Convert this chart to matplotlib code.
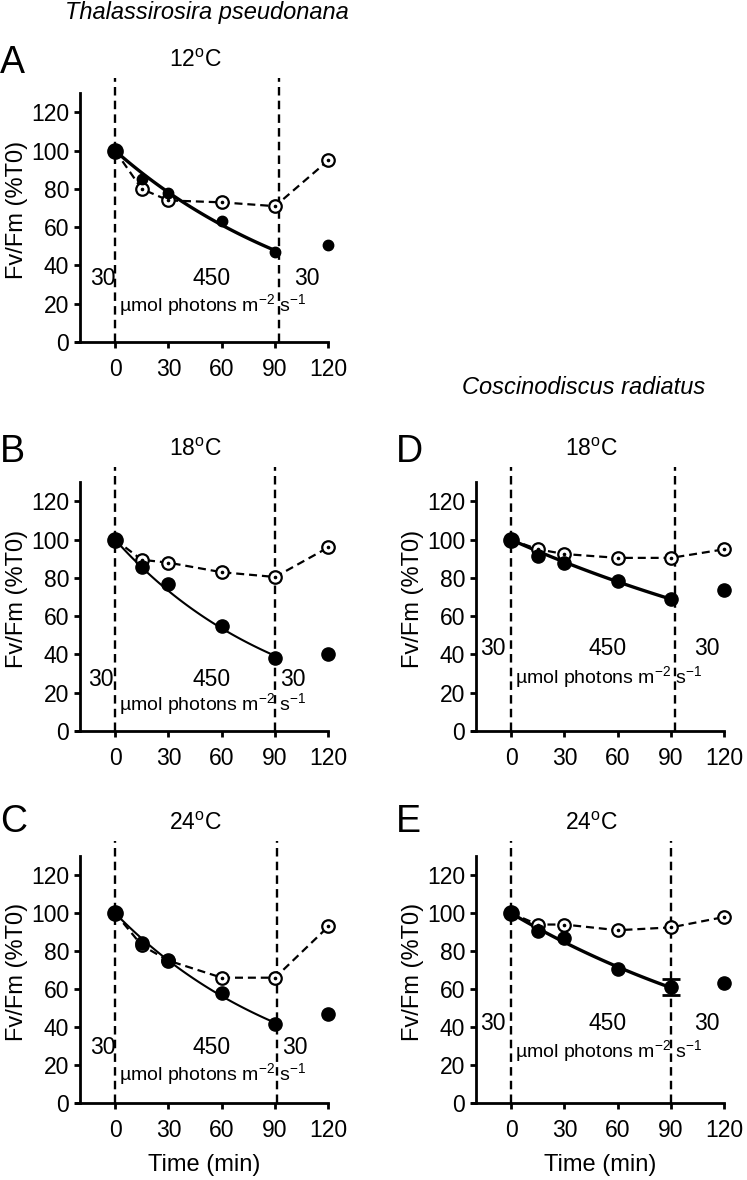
import numpy as np
import matplotlib.pyplot as plt

plt.rcParams['font.family'] = ['Liberation Sans', 'DejaVu Sans']
plt.rcParams['mathtext.fontset'] = 'custom'
plt.rcParams['mathtext.rm'] = 'Liberation Sans'

# time points (min)
t = [0, 15, 30, 60, 90, 120]

# Fv/Fm (%T0), open circles (dashed) and filled circles
open_A = [100, 80, 74, 73, 71, 95]
fill_A = [100, 85, 78, 63.5, 47, 50.5]
open_B = [100, 89.5, 88, 83, 80.5, 96]
fill_B = [100, 85.5, 77, 55, 38, 40.5]
open_C = [100, 83, 75, 66, 66, 93]
fill_C = [100, 84.5, 75.5, 58, 41.5, 47]
open_D = [100, 95, 92.5, 90.5, 90.5, 95]
fill_D = [100, 91.5, 88, 78.5, 69, 73.5]
open_E = [100, 94, 94, 91, 92.5, 98]
fill_E = [100, 90.5, 87, 70.5, 61, 63]
err_E = [0, 0, 0, 0, 4.2, 0]

letters = ['A', 'B', 'C', 'D', 'E']
temps = ['12', '18', '24', '18', '24']
vline2 = [92, 90, 91, 92, 90]          # end of high light period
fit_lw = [2.4, 1.5, 1.5, 2.4, 2.4]
fill_ms = [7.5, 9.5, 9.5, 9.5, 9.5]

# label positions (x of left "30", y of numbers, y of units line)
lab_x30 = [-7, -8, -7, -10, -10]
lab_x30r = [108, 100, 101, 110, 110]
lab_y = [33, 27, 29, 43, 42]
unit_y = [19, 14, 15, 28, 27]

opens = [open_A, open_B, open_C, open_D, open_E]
fills = [fill_A, fill_B, fill_C, fill_D, fill_E]
errs = [None, None, None, None, err_E]

W, H = 747, 1180
fig = plt.figure(figsize=(W / 100, H / 100), dpi=100)

# axes boxes in pixels: left, right, bottom, top
boxes = [(76, 332, 342, 78), (76, 332, 731, 467), (76, 332, 1103, 841),
         (472, 728, 731, 467), (472, 728, 1103, 841)]
letter_xy = [(0, 63), (0, 452), (0, 822), (396, 452), (396, 822)]

for i in range(5):
    l, r, b, tp = boxes[i]
    ax = fig.add_axes([l / W, 1 - b / H, (r - l) / W, (b - tp) / H])
    ax.set_xlim(-22, 122)
    ax.set_ylim(0, 138)
    for s in ['top', 'right']:
        ax.spines[s].set_visible(False)
    ax.spines['left'].set_position(('data', -20))
    ax.spines['left'].set_bounds(0, 130)
    ax.spines['bottom'].set_bounds(-22, 120)
    for s in ['left', 'bottom']:
        ax.spines[s].set_linewidth(2)
    ax.set_xticks([0, 30, 60, 90, 120])
    ax.set_yticks(range(0, 121, 20))
    ax.tick_params(width=2, length=4.5, labelsize=16.5)
    ax.tick_params(axis='x', pad=7)
    ax.tick_params(axis='y', pad=3)
    ax.set_ylabel('Fv/Fm (%T0)', fontsize=17, labelpad=2)
    if i in (2, 4):
        ax.set_xlabel('Time (min)', fontsize=17, labelpad=9)

    # light shift lines
    ax.plot([0, 0], [0, 138], color='black', lw=1.7, dashes=[3.6, 2.2], clip_on=False)
    ax.plot([vline2[i], vline2[i]], [0, 138], color='black', lw=1.7,
            dashes=[3.6, 2.2], clip_on=False)

    # exponential fit of filled series over 0-90 min
    tt = np.array(t[:5], dtype=float)
    yy = np.array(fills[i][:5], dtype=float)
    k = -np.sum(tt * np.log(yy / 100)) / np.sum(tt ** 2)
    tf = np.linspace(0, 90, 100)
    ax.plot(tf, 100 * np.exp(-k * tf), color='black', lw=fit_lw[i], zorder=3)

    # open circles with dashed line
    ax.plot(t, opens[i], color='black', lw=1.6, dashes=[3.6, 2.2], marker='o',
            ms=9, mfc='white', mec='black', mew=1.6, clip_on=False, zorder=4)
    ax.plot(t, opens[i], ls='none', marker='o', ms=1.6, color='black',
            clip_on=False, zorder=5)
    # filled circles
    ax.plot(t, fills[i], ls='none', marker='o', ms=fill_ms[i], color='black',
            clip_on=False, zorder=6)
    if errs[i] is not None:
        idx = [j for j in range(len(t)) if errs[i][j] > 0]
        ax.errorbar([t[j] for j in idx], [fills[i][j] for j in idx],
                    yerr=[errs[i][j] for j in idx], fmt='none', ecolor='black',
                    elinewidth=2, capsize=6.5, capthick=2, clip_on=False, zorder=6)
    ax.plot([0], [100], ls='none', marker='o', ms=11, color='black',
            clip_on=False, zorder=7)

    # annotations
    ax.text(45, 147, temps[i] + r'$^{\rm o}$C', fontsize=16.5, ha='center', va='center')
    ax.text(lab_x30[i], lab_y[i], '30', fontsize=16.5, ha='center', va='center')
    ax.text(54, lab_y[i], '450', fontsize=16.5, ha='center', va='center')
    ax.text(lab_x30r[i], lab_y[i], '30', fontsize=16.5, ha='center', va='center')
    ax.text(2, unit_y[i], r'µmol photons m$^{-2}$ s$^{-1}$', fontsize=14,
            ha='left', va='center')

    # panel letter
    lx, ly = letter_xy[i]
    fig.text(lx / W, 1 - ly / H, letters[i], fontsize=27, ha='left', va='center')

# species
fig.text(207 / W, 1 - 13 / H, 'Thalassirosira pseudonana', fontsize=17,
         style='italic', ha='center', va='center')
fig.text(584 / W, 1 - 388 / H, 'Coscinodiscus radiatus', fontsize=17,
         style='italic', ha='center', va='center')

fig.savefig('out.png', dpi=100)
